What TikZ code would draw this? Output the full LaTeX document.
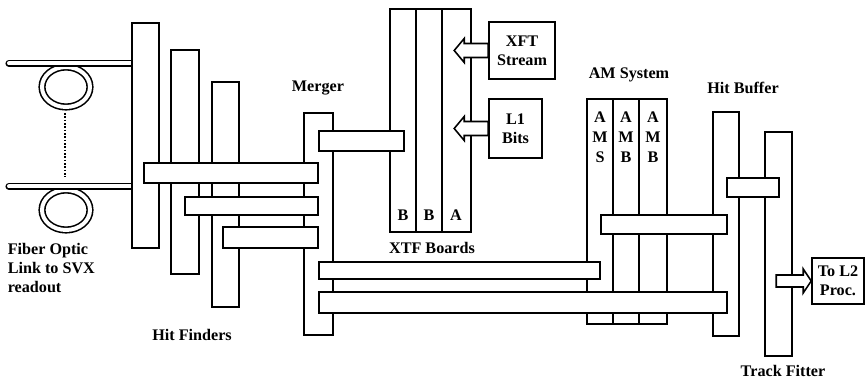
\documentclass[tikz,border=0pt]{standalone}
\usepackage{fontspec}
\setmainfont{Liberation Serif}
\usetikzlibrary{positioning}

\tikzset{
  board/.style={draw, fill=white},
  lbl/.style={font=\bfseries\fontsize{9.2}{10.8}\selectfont, inner sep=0pt},
  boxlbl/.style={lbl, draw, fill=white, align=center},
  fiber/.style={double distance=0.08cm, line cap=round},
  fatarrow/.style={draw, fill=white}
}

\begin{document}
\begin{tikzpicture}[x=0.02cm, y=-0.02cm, line width=0.9pt]
\useasboundingbox (0,0) rectangle (867,381);

% Fiber optic links
\draw[fiber] (66,87) ellipse [x radius=0.48cm, y radius=0.4cm];
\draw[fiber] (66,210) ellipse [x radius=0.48cm, y radius=0.4cm];
\draw[fiber] (9,63.5) -- (134,63.5);
\draw[fiber] (9,186.5) -- (134,186.5);
\draw[densely dotted] (65,113) -- (65,177);

% Hit Finders
\draw[board] (132,23) rectangle (159,248);
\draw[board] (171,50) rectangle (199,274);
\draw[board] (212,82) rectangle (239,307);

% Merger
\draw[board] (304,113) rectangle (333,335);

% XTF boards
\draw[board] (390,9) rectangle (416,232);
\draw[board] (416,9) rectangle (442,232);
\draw[board] (442,9) rectangle (471,232);

% AM boards
\draw[board] (587,99) rectangle (613,324);
\draw[board] (613,99) rectangle (639,324);
\draw[board] (639,99) rectangle (667,324);

% Hit Buffer and Track Fitter
\draw[board] (713,112) rectangle (739,336);
\draw[board] (765,132) rectangle (792,356);

% cables
\draw[board] (144,163) rectangle (318,183);
\draw[board] (185,197) rectangle (318,215);
\draw[board] (223,227) rectangle (318,248);
\draw[board] (319,131) rectangle (404,151);
\draw[board] (319,262) rectangle (600,279);
\draw[board] (319,292) rectangle (727,313);
\draw[board] (601,215) rectangle (727,234);
\draw[board] (727,178) rectangle (779,197);

% inputs and output
\node[boxlbl, minimum width=1.32cm, minimum height=1.14cm] (xft) at (522,50.5) {XFT\\Stream};
\node[boxlbl, minimum width=1.06cm, minimum height=1.18cm] (lone) at (515.5,128.5) {L1\\Bits};
\node[boxlbl, minimum width=1.04cm, minimum height=0.92cm] (tol2) at (838,281) {To L2\\Proc.};

\draw[fatarrow] (xft.west) ++(0,-7) -- ++(-24,0) -- ++(0,-5) -- ++(-10,12)
  -- ++(10,12) -- ++(0,-5) -- ++(24,0) -- cycle;
\draw[fatarrow] (lone.west) ++(0,-7) -- ++(-24,0) -- ++(0,-5) -- ++(-10,12)
  -- ++(10,12) -- ++(0,-5) -- ++(24,0) -- cycle;
\draw[fatarrow] (tol2.west) -- ++(-8,-12) -- ++(0,6) -- ++(-27,0) -- ++(0,12)
  -- ++(27,0) -- ++(0,6) -- cycle;

% board letters
\node[lbl] (xtfb1) at (403,215) {B};
\node[lbl] (xtfb2) at (429,215) {B};
\node[lbl] (xtfa) at (456,215) {A};
\node[lbl, align=center, font=\bfseries\fontsize{9.2}{11.3}\selectfont] (ams) at (600,137) {A\\M\\S};
\node[lbl, align=center, font=\bfseries\fontsize{9.2}{11.3}\selectfont] (amb1) at (626,137) {A\\M\\B};
\node[lbl, align=center, font=\bfseries\fontsize{9.2}{11.3}\selectfont] (amb2) at (653,137) {A\\M\\B};

% labels
\node[lbl, anchor=west, align=left] (fiberlbl) at (7,268) {Fiber Optic\\Link to SVX\\readout};
\node[lbl] (hflbl) at (192,335) {Hit Finders};
\node[lbl] (mergerlbl) at (318,88) {Merger};
\node[lbl] (xtflbl) at (432,248) {XTF Boards};
\node[lbl] (amlbl) at (629,75) {AM System};
\node[lbl] (hblbl) at (743,88) {Hit Buffer};
\node[lbl] (tflbl) at (783,371) {Track Fitter};

\end{tikzpicture}
\end{document}
